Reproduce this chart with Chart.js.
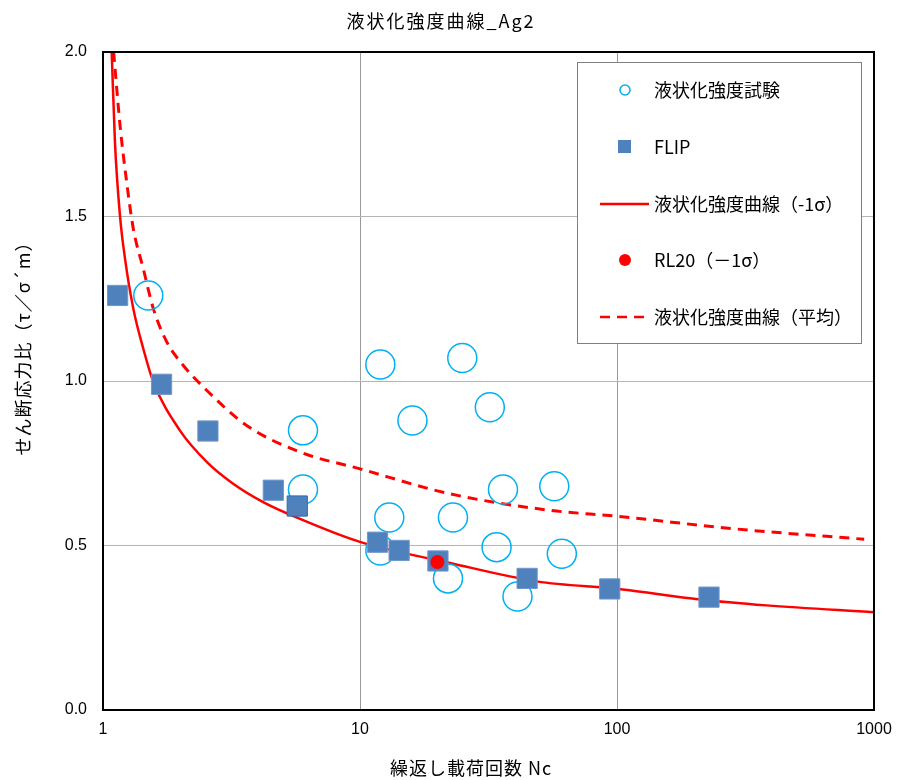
<!DOCTYPE html>
<html>
<head>
<meta charset="utf-8">
<script src="https://cdn.jsdelivr.net/npm/chart.js@4/dist/chart.umd.min.js"></script>
<style>
  html, body { margin: 0; padding: 0; background: #fff; }
  #wrap { width: 898px; height: 780px; }
</style>
</head>
<body>
<div id="wrap"><canvas id="chart" width="898" height="780"></canvas></div>
<script>
// Chart texts
const chartTitle = '液状化強度曲線_Ag2';
const xTitle = '繰返し載荷回数 Nc';
const yTitle = 'せん断応力比（τ／σ´m）';

// Axis ticks
const xTicks = [1, 10, 100, 1000];
const yTicks = [0, 0.5, 1.0, 1.5, 2.0];

// 液状化強度試験 (circles)
const testN     = [1.5, 12.0, 25.0, 32.0, 16.0, 6.0, 6.0, 36.0, 57.0, 13.0, 23.0, 34.0, 61.0, 12.0, 22.0, 41.0];
const testRatio = [1.26, 1.05, 1.07, 0.92, 0.88, 0.85, 0.67, 0.67, 0.68, 0.585, 0.585, 0.495, 0.475, 0.485, 0.40, 0.345];

// FLIP (squares)
const flipN     = [1.14, 1.69, 2.56, 4.6, 5.7, 11.7, 14.2, 20.1, 44.7, 93.7, 228];
const flipRatio = [1.26, 0.99, 0.848, 0.668, 0.62, 0.51, 0.485, 0.453, 0.40, 0.368, 0.343];

// RL20 (-1σ)
const rlN = [20];
const rlRatio = [0.45];

// 液状化強度曲線 (-1σ)
const lowN     = [1.081, 1.113, 1.165, 1.218, 1.312, 1.435, 1.57, 1.99, 2.55, 3.17, 4.2, 5.84, 10, 22.4, 48.7, 103, 210, 382, 1000];
const lowRatio = [2.0, 1.726, 1.50, 1.372, 1.22, 1.098, 0.997, 0.85, 0.752, 0.691, 0.632, 0.581, 0.511, 0.447, 0.391, 0.367, 0.336, 0.318, 0.297];

// 液状化強度曲線 (平均)
const meanN     = [1.10, 1.165, 1.236, 1.312, 1.435, 1.57, 1.77, 2.05, 2.53, 3.62, 5.84, 10, 22.4, 54.8, 99.7, 283.6, 916];
const meanRatio = [2.0, 1.777, 1.605, 1.463, 1.341, 1.22, 1.119, 1.048, 0.972, 0.865, 0.784, 0.733, 0.657, 0.607, 0.589, 0.551, 0.519];

const BLUE = '#00B0F0';
const SQUARE = '#4F81BD';
const RED = '#FF0000';
const JP_FONT = '"Noto Sans CJK JP", "Liberation Sans", sans-serif';
const NUM_FONT = '"Liberation Sans", "Noto Sans CJK JP", sans-serif';

function toPoints(xs, ys) {
    return xs.map((x, i) => ({ x: x, y: ys[i] }));
}

// Legend entries (drawn inside the plot, top right)
const legendItems = [
    { label: '液状化強度試験', kind: 'circle' },
    { label: 'FLIP', kind: 'square' },
    { label: '液状化強度曲線（-1σ）', kind: 'line' },
    { label: 'RL20（－1σ）', kind: 'dot' },
    { label: '液状化強度曲線（平均）', kind: 'dash' }
];

const framePlugin = {
    id: 'frame',
    afterDraw(chart) {
        const ctx = chart.ctx;
        const a = chart.chartArea;
        ctx.save();

        // plot frame
        ctx.strokeStyle = '#000';
        ctx.lineWidth = 2;
        ctx.strokeRect(a.left, a.top, a.right - a.left, a.bottom - a.top);

        // legend box
        const bx = 577, by = 62, bw = 284, bh = 281;
        ctx.fillStyle = '#fff';
        ctx.fillRect(bx, by, bw, bh);
        ctx.strokeStyle = '#808080';
        ctx.lineWidth = 1;
        ctx.strokeRect(bx + 0.5, by + 0.5, bw, bh);

        const rowY = [90, 147, 204, 260, 317];
        const iconX = 625;
        ctx.font = '18px ' + JP_FONT;
        ctx.textBaseline = 'middle';
        ctx.textAlign = 'left';
        legendItems.forEach((item, i) => {
            const y = rowY[i];
            if (item.kind === 'circle') {
                ctx.beginPath();
                ctx.arc(iconX, y, 5, 0, Math.PI * 2);
                ctx.strokeStyle = BLUE;
                ctx.lineWidth = 1.5;
                ctx.stroke();
            } else if (item.kind === 'square') {
                ctx.fillStyle = SQUARE;
                ctx.fillRect(iconX - 7, y - 7, 13, 13);
            } else if (item.kind === 'dot') {
                ctx.beginPath();
                ctx.arc(iconX, y, 6, 0, Math.PI * 2);
                ctx.fillStyle = RED;
                ctx.fill();
            } else {
                ctx.beginPath();
                ctx.setLineDash(item.kind === 'dash' ? [10, 7] : []);
                ctx.moveTo(600, y);
                ctx.lineTo(649, y);
                ctx.strokeStyle = RED;
                ctx.lineWidth = 2.5;
                ctx.stroke();
                ctx.setLineDash([]);
            }
            ctx.fillStyle = '#000';
            ctx.fillText(item.label, 654, y);
        });

        // chart title and axis titles
        ctx.fillStyle = '#000';
        ctx.textAlign = 'center';
        ctx.textBaseline = 'middle';
        ctx.font = '18px ' + JP_FONT;
        if ('letterSpacing' in ctx) ctx.letterSpacing = '2px';
        ctx.fillText(chartTitle, 441, 21);
        if ('letterSpacing' in ctx) ctx.letterSpacing = '1px';
        ctx.fillText(xTitle, 471, 768);
        ctx.translate(23, 344);
        ctx.rotate(-Math.PI / 2);
        ctx.fillText(yTitle, 0, 0);
        ctx.restore();
    }
};

const ctx = document.getElementById('chart').getContext('2d');

new Chart(ctx, {
    type: 'scatter',
    data: {
        datasets: [
            {
                label: 'RL20（－1σ）',
                data: toPoints(rlN, rlRatio),
                pointStyle: 'circle',
                pointRadius: 7,
                pointBackgroundColor: RED,
                pointBorderColor: RED,
                pointBorderWidth: 0
            },
            {
                label: 'FLIP',
                data: toPoints(flipN, flipRatio),
                pointStyle: 'rect',
                pointRadius: 14.3,
                pointBackgroundColor: SQUARE,
                pointBorderColor: flipN.map((n, i) => i === 4 ? '#2B6CB0' : '#6F97CB'),
                pointBorderWidth: 1
            },
            {
                label: '液状化強度試験',
                data: toPoints(testN, testRatio),
                pointStyle: 'circle',
                pointRadius: 14.5,
                pointBackgroundColor: 'rgba(0,0,0,0)',
                pointBorderColor: BLUE,
                pointBorderWidth: 1.5
            },
            {
                label: '液状化強度曲線（-1σ）',
                data: toPoints(lowN, lowRatio),
                showLine: true,
                borderColor: RED,
                borderWidth: 2.5,
                pointRadius: 0,
                cubicInterpolationMode: 'monotone'
            },
            {
                label: '液状化強度曲線（平均）',
                data: toPoints(meanN, meanRatio),
                showLine: true,
                borderColor: RED,
                borderWidth: 3,
                borderDash: [10, 7],
                pointRadius: 0,
                cubicInterpolationMode: 'monotone'
            }
        ]
    },
    options: {
        responsive: false,
        animation: false,
        layout: {
            padding: { top: 52, right: 24, left: 0, bottom: 0 }
        },
        plugins: {
            legend: { display: false },
            title: { display: false },
            tooltip: { enabled: false }
        },
        scales: {
            x: {
                type: 'logarithmic',
                min: 1,
                max: 1000,
                afterBuildTicks: function(scale) {
                    scale.ticks = xTicks.map(v => ({ value: v }));
                },
                afterFit: function(scale) {
                    scale.height = 70;
                    scale.paddingLeft = 0;
                    scale.paddingRight = 0;
                },
                ticks: {
                    color: '#000',
                    padding: 10,
                    maxRotation: 0,
                    font: { family: NUM_FONT, size: 16 },
                    callback: function(value) {
                        return String(value);
                    }
                },
                grid: {
                    color: '#9a9a9a',
                    lineWidth: 1,
                    drawTicks: false
                },
                border: { display: true, color: '#000', width: 2 }
            },
            y: {
                type: 'linear',
                min: 0,
                max: 2,
                afterBuildTicks: function(scale) {
                    scale.ticks = yTicks.map(v => ({ value: v }));
                },
                afterFit: function(scale) {
                    scale.width = 103;
                },
                ticks: {
                    color: '#000',
                    padding: 16,
                    font: { family: NUM_FONT, size: 16 },
                    callback: function(value) {
                        return Number(value).toFixed(1);
                    }
                },
                grid: {
                    color: '#b4b4b4',
                    lineWidth: 1,
                    drawTicks: false
                },
                border: { display: true, color: '#000', width: 2 }
            }
        }
    },
    plugins: [framePlugin]
});
</script>
</body>
</html>
